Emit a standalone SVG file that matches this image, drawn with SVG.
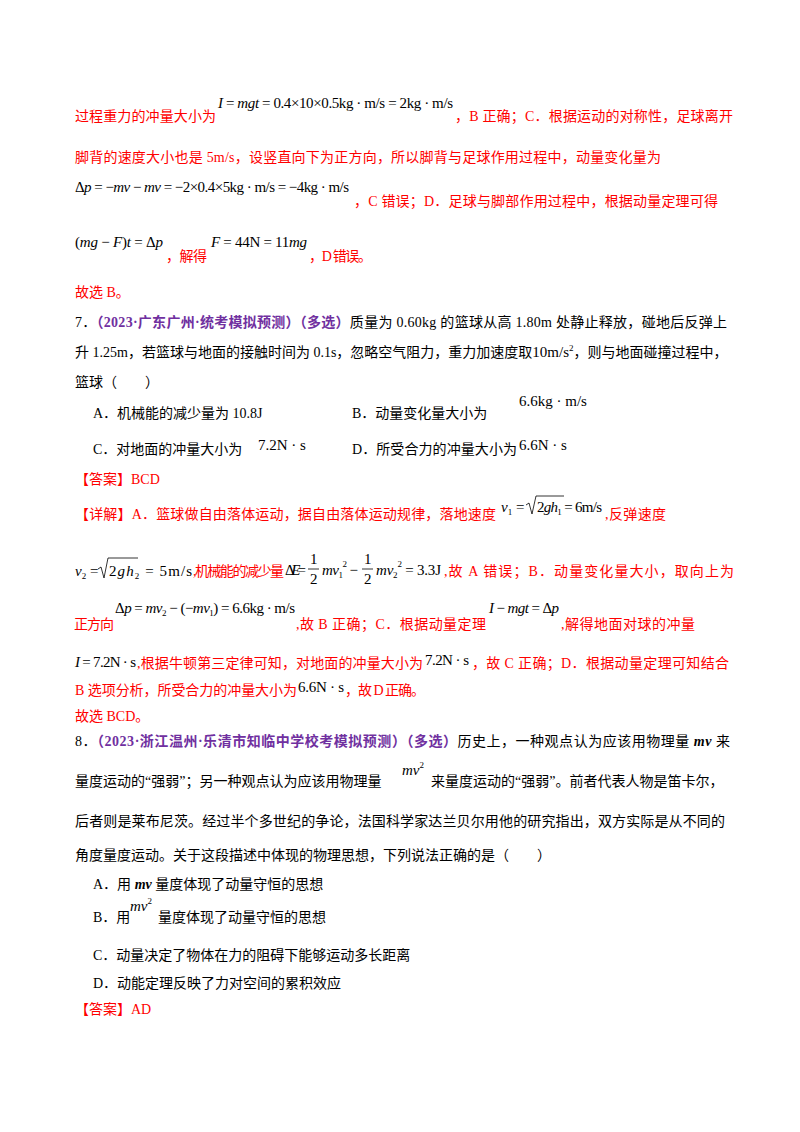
<svg xmlns="http://www.w3.org/2000/svg" width="800" height="1132" viewBox="0 0 800 1132">
<style>
text{font-family:"Liberation Serif","Noto Sans CJK SC",serif;font-size:14px;fill:#000}
.r{fill:#FF0000}
.p{fill:#7030A0;font-weight:bold}
.m{font-family:"Liberation Serif",serif;font-size:15px;fill:#000}
.i{font-style:italic}
.s{font-size:9px}
</style>
<rect width="800" height="1132" fill="#fff"/>
<text class="m" x="218" y="108" textLength="235"><tspan class="i">I</tspan> = <tspan class="i">mgt</tspan> = 0.4×10×0.5kg · m/s = 2kg · m/s</text>
<text class="r" x="75" y="121" textLength="141">过程重力的冲量大小为</text>
<text class="r" x="455" y="121" textLength="278">，B 正确；C．根据运动的对称性，足球离开</text>
<text class="r" x="75" y="162" textLength="586">脚背的速度大小也是 5m/s，设竖直向下为正方向，所以脚背与足球作用过程中，动量变化量为</text>
<text class="m" x="75" y="192" textLength="274">Δ<tspan class="i">p</tspan> = −<tspan class="i">mv</tspan> − <tspan class="i">mv</tspan> = −2×0.4×5kg · m/s = −4kg · m/s</text>
<text class="r" x="354" y="206" textLength="364">，C 错误；D．足球与脚部作用过程中，根据动量定理可得</text>
<text class="m" x="75" y="247" textLength="88">(<tspan class="i">mg</tspan> − <tspan class="i">F</tspan>)<tspan class="i">t</tspan> = Δ<tspan class="i">p</tspan></text>
<text class="r" x="166" y="261" textLength="41">，解得</text>
<text class="m" x="211" y="247" textLength="96"><tspan class="i">F</tspan> = 44N = 11<tspan class="i">mg</tspan></text>
<text class="r" x="309" y="261" textLength="63">，D 错误。</text>
<text class="r" x="75" y="297">故选 B。</text>
<text x="75" y="327" textLength="652">7．<tspan class="p">（2023·广东广州·统考模拟预测）（多选）</tspan>质量为 0.60kg 的篮球从高 1.80m 处静止释放，碰地后反弹上</text>
<text x="75" y="357">升 1.25m，若篮球与地面的接触时间为 0.1s，忽略空气阻力，重力加速度取<tspan class="m">10m/s<tspan class="s" dy="-6">2</tspan></tspan><tspan dy="6">，则与地面碰撞过程中，</tspan></text>
<text x="75" y="387">篮球（　　）</text>
<text x="93" y="418">A．机械能的减少量为 10.8J</text>
<text x="352" y="418">B．动量变化量大小为</text>
<text class="m" x="519" y="406">6.6kg · m/s</text>
<text x="93" y="454">C．对地面的冲量大小为</text>
<text class="m" x="258" y="450">7.2N · s</text>
<text x="352" y="454" textLength="165">D．所受合力的冲量大小为</text>
<text class="m" x="519" y="450">6.6N · s</text>
<text class="r" x="75" y="484">【答案】BCD</text>
<text class="r" x="75" y="519" textLength="421">【详解】A．篮球做自由落体运动，据自由落体运动规律，落地速度</text>
<text class="m" x="501" y="512"><tspan class="i">v</tspan><tspan class="s" dy="3">1</tspan><tspan dy="-3"> =</tspan></text>
<path d="M526 505 L529 503 L532 514 L536 496 L564 496" fill="none" stroke="#000" stroke-width="0.8"/>
<text class="m" x="537" y="512" textLength="65">2<tspan class="i">gh</tspan><tspan class="s" dy="3">1</tspan><tspan dy="-3"> = 6m/s</tspan></text>
<text class="r" x="605" y="519" textLength="61">,反弹速度</text>
<text class="m" x="75" y="576"><tspan class="i">v</tspan><tspan class="s" dy="3">2</tspan><tspan dy="-3"> =</tspan></text>
<path d="M98 569 L101 567 L104 578 L108 558 L138 558" fill="none" stroke="#000" stroke-width="0.8"/>
<text class="m" x="109" y="576" textLength="83">2<tspan class="i">gh</tspan><tspan class="s" dy="3">2</tspan><tspan dy="-3"> = 5m/s</tspan></text>
<text class="r" x="193" y="576" textLength="91">,机械能的减少量</text>
<text class="m" x="285" y="575" textLength="21">Δ<tspan class="i">E</tspan> =</text>
<text class="m" x="310" y="564">1</text><line x1="308" y1="569" x2="319" y2="569" stroke="#000" stroke-width="0.8"/><text class="m" x="310" y="584">2</text>
<text class="m" x="322" y="575" textLength="36"><tspan class="i">mv</tspan><tspan class="s" dy="3">1</tspan><tspan class="s" dy="-11">2</tspan><tspan dy="8"> −</tspan></text>
<text class="m" x="364" y="564">1</text><line x1="362" y1="569" x2="373" y2="569" stroke="#000" stroke-width="0.8"/><text class="m" x="364" y="584">2</text>
<text class="m" x="376" y="575" textLength="65"><tspan class="i">mv</tspan><tspan class="s" dy="3">2</tspan><tspan class="s" dy="-11">2</tspan><tspan dy="8"> = 3.3J</tspan></text>
<text class="r" x="444" y="576" textLength="290">,故 A 错误；B．动量变化量大小，取向上为</text>
<text class="r" x="74" y="629" textLength="40">正方向</text>
<text class="m" x="115" y="613" textLength="180">Δ<tspan class="i">p</tspan> = <tspan class="i">mv</tspan><tspan class="s" dy="3">2</tspan><tspan dy="-3"> − (−</tspan><tspan class="i">mv</tspan><tspan class="s" dy="3">1</tspan><tspan dy="-3">) = 6.6kg · m/s</tspan></text>
<text class="r" x="296" y="629" textLength="190">,故 B 正确；C．根据动量定理</text>
<text class="m" x="489" y="613" textLength="70"><tspan class="i">I</tspan> − <tspan class="i">mgt</tspan> = Δ<tspan class="i">p</tspan></text>
<text class="r" x="561" y="629" textLength="134">,解得地面对球的冲量</text>
<text class="m" x="75" y="667" textLength="61"><tspan class="i">I</tspan> = 7.2N · s</text>
<text class="r" x="137" y="668" textLength="286">,根据牛顿第三定律可知，对地面的冲量大小为</text>
<text class="m" x="425" y="665" textLength="44">7.2N · s</text>
<text class="r" x="472" y="668" textLength="257">，故 C 正确；D．根据动量定理可知结合</text>
<text class="r" x="75" y="695" textLength="222">B 选项分析，所受合力的冲量大小为</text>
<text class="m" x="298" y="692" textLength="46">6.6N · s</text>
<text class="r" x="345" y="695" textLength="80">，故 D 正确。</text>
<text class="r" x="75" y="721">故选 BCD。</text>
<text x="75" y="746" textLength="655">8．<tspan class="p">（2023·浙江温州·乐清市知临中学校考模拟预测）（多选）</tspan>历史上，一种观点认为应该用物理量 <tspan class="i" font-weight="bold">mv</tspan> 来</text>
<text x="75" y="786">量度运动的“强弱”；另一种观点认为应该用物理量</text>
<text class="m" x="402" y="775"><tspan class="i">mv</tspan><tspan class="s" dy="-7">2</tspan></text>
<text x="431" y="786">来量度运动的“强弱”。前者代表人物是笛卡尔，</text>
<text x="75" y="826" textLength="650">后者则是莱布尼茨。经过半个多世纪的争论，法国科学家达兰贝尔用他的研究指出，双方实际是从不同的</text>
<text x="75" y="860">角度量度运动。关于这段描述中体现的物理思想，下列说法正确的是（　　）</text>
<text x="93" y="889">A．用 <tspan class="i" font-weight="bold">mv</tspan> 量度体现了动量守恒的思想</text>
<text x="93" y="922">B．用</text>
<text class="m" x="130" y="911"><tspan class="i">mv</tspan><tspan class="s" dy="-7">2</tspan></text>
<text x="158" y="922">量度体现了动量守恒的思想</text>
<text x="93" y="960">C．动量决定了物体在力的阻碍下能够运动多长距离</text>
<text x="93" y="988">D．动能定理反映了力对空间的累积效应</text>
<text class="r" x="75" y="1014">【答案】AD</text>
</svg>
